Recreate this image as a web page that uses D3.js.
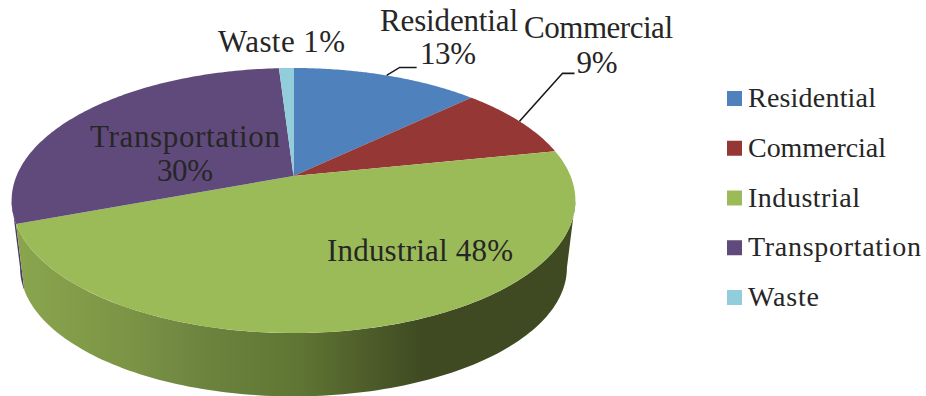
<!DOCTYPE html>
<html><head><meta charset="utf-8">
<script src="https://cdn.jsdelivr.net/npm/d3@7/dist/d3.min.js"></script>
<style>html,body{margin:0;padding:0;background:#fff;overflow:hidden}svg{display:block}
text{font-family:"Liberation Serif",serif;fill:#262626}</style>
</head><body><div id="c"></div>
<script>
const categories=["Residential","Commercial","Industrial","Transportation","Waste"];
const shares=[13,9,48,30,1];
const colors=["#4f81bd","#953735","#9bbb59","#604a7b","#92cddc"];

const W=926,H=396,cx=293.5,cy=176,a=277,b=128,k=0.185,depth=68;
const svg=d3.select("#c").append("svg").attr("width",W).attr("height",H);
const defs=svg.append("defs");
const g=defs.append("linearGradient").attr("id","wall").attr("gradientUnits","userSpaceOnUse")
  .attr("x1",18).attr("x2",572).attr("y1",0).attr("y2",0);
[[0,"#8aa54e"],[.21,"#7a9345"],[.33,"#6d843f"],[.51,"#5f7533"],[.64,"#4c5b29"],[.73,"#3f4a22"],[1,"#3f4a22"]]
  .forEach(([o,c])=>g.append("stop").attr("offset",o).attr("stop-color",c));

const pie=d3.pie().sort(null).value(d=>d);
const arcs=pie(shares);
function proj(t,dy=0,s=1){
  const u=Math.sin(t),v=Math.cos(t),d=1+k*v;
  return [cx+s*a*u/d,cy+dy-(s*b*v/d)];
}
const line=d3.line();
function range(t0,t1,n=120){return d3.range(n+1).map(i=>t0+(t1-t0)*i/n);}

const rightT=Math.PI/2+Math.asin(k), leftT=2*Math.PI-rightT;
function wall(t0,t1){
  const top=range(t0,t1).map(t=>proj(t));
  const bot=range(t1,t0).map(t=>proj(t,depth,0.97));
  return line(top.concat(bot))+"Z";
}
const indEnd=arcs[2].endAngle;
svg.append("path").attr("d",wall(indEnd,leftT)).attr("fill","#4a3a60");
svg.append("path").attr("d",wall(rightT,indEnd)).attr("fill","url(#wall)");

svg.append("g").selectAll("path").data(arcs).join("path")
  .attr("d",d=>line([[cx,cy],...range(d.startAngle,d.endAngle).map(t=>proj(t))])+"Z")
  .attr("fill",(d,i)=>colors[i]);

const mid=d=>(d.startAngle+d.endAngle)/2;
const leaders=[[0,[[13,-8],[30,-8]]],[1,[[43,-48],[55,-48]]]];
svg.append("g").selectAll("path").data(leaders).join("path")
  .attr("d",([i,off])=>{const p=proj(mid(arcs[i]));
    return line([p,...off.map(o=>[p[0]+o[0],p[1]+o[1]])]);})
  .attr("fill","none").attr("stroke","#1a1a1a").attr("stroke-width",1.6);

const labelRows=[
 ["Waste "+shares[4]+"%",281.5,52,127],
 [categories[0],449,31,138],[shares[0]+"%",448,64,56],
 [categories[1],598.5,38,149],[shares[1]+"%",597,73,41],
 [categories[3],185,147,190],[shares[3]+"%",185,181,56],
 [categories[2]+" "+shares[2]+"%",420,261,186]
];
svg.append("g").attr("text-anchor","middle").attr("font-size",31)
  .selectAll("text").data(labelRows).join("text")
  .attr("x",d=>d[1]).attr("y",d=>d[2]).attr("textLength",d=>d[3]).text(d=>d[0]);

const legendWidths=[128,138,112,173,71];
const ly=d3.scalePoint().domain(categories).range([98.5,297.5]);
const leg=svg.append("g").selectAll("g").data(categories).join("g")
  .attr("transform",d=>`translate(727,${ly(d)})`);
leg.append("rect").attr("y",-7.5).attr("width",15).attr("height",15).attr("fill",(d,i)=>colors[i]);
leg.append("text").attr("x",21).attr("y",8.5).attr("font-size",28)
  .attr("textLength",(d,i)=>legendWidths[i]).text(d=>d);
</script></body></html>
